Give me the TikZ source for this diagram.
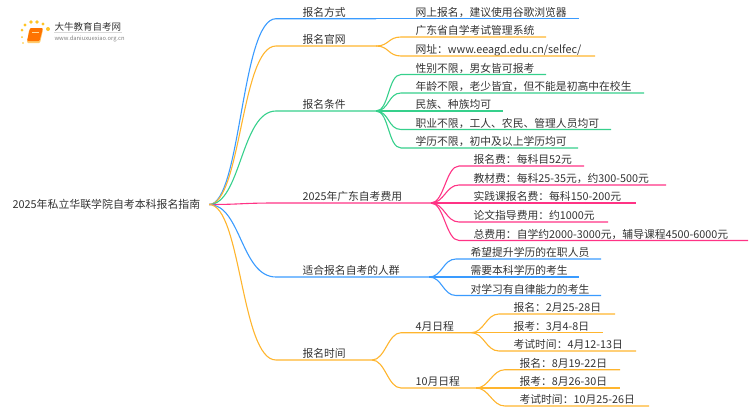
\documentclass[tikz,border=0pt]{standalone}
\usepackage{fontspec}
\setmainfont{Noto Sans CJK SC}
\usetikzlibrary{calc}
\definecolor{blueline}{HTML}{3A9BFF}
\definecolor{orangeline}{HTML}{FFB52E}
\definecolor{greenline}{HTML}{36D08C}
\definecolor{pinkline}{HTML}{FF3385}
\definecolor{inktext}{HTML}{333333}
\tikzset{
  branch/.style n args={3}{to path={.. controls ($(\tikztostart)+(#1,0)$) and ($(\tikztotarget)+(-#2-#3,0)$) .. ($(\tikztotarget)+(-#3,0)$) -- (\tikztotarget)}},
  rootlink/.style={branch={32}{35}{26}},
  leaflink/.style={branch={13}{13}{14}}
}
\begin{document}
\begin{tikzpicture}[
  x=1pt, y=-1pt,
  topic/.style={anchor=south west, inner sep=0pt, inner ysep=.5pt, text height=9pt, text depth=1.3pt, align=left, text=inktext, font=\fontsize{10.8}{12}\selectfont},
  every path/.append style={line width=1.1pt}
]
\useasboundingbox (0,0) rectangle (750,410);

% Logo
\foreach \dotx/\doty/\dotr in {22/30/1.5, 25/25/1.6, 31/22/1.8, 37/22/1.8, 43/24/1.7, 48/29/2, 22/37/1, 23/43/.8}
  \fill[orangeline!80!yellow, line width=0pt] (\dotx,\doty) circle (\dotr);
\fill[orangeline!70!white, rounded corners=1pt] (29,30) -- (43,30) -- (40,43) -- (27,43) -- cycle;
\fill[orange!90!red, rounded corners=1pt] (30,28) -- (43,28) -- (39.5,41) -- (27,41) -- cycle;
\draw[orangeline!50!white, line width=.6pt] (32,32) -- (39,32);
\node[anchor=west, inner sep=0pt, text=inktext, font=\fontsize{9.5}{11}\selectfont] (logotitle) at (54,27) {大牛教育自考网};
\node[anchor=west, inner sep=0pt, text=gray, font=\fontsize{5.8}{7}\selectfont] (logourl) at (54,38.5) {www.daniuxuexiao.org.cn};
\draw[black!15, line width=.5pt] (logotitle.south west) -- (logotitle.south east);

% Root and first level
\node[anchor=west, inner sep=0pt, text width=196pt, text=inktext, font=\fontsize{10.9}{12}\selectfont] (root) at (12,204.5) {2025年私立华联学院自考本科报名指南};
\node[topic, text width=73pt] (way) at (302,18.7) {报名方式};
\node[topic, text width=73pt] (site) at (302,46) {报名官网};
\node[topic, text width=73pt] (cond) at (302,111) {报名条件};
\node[topic, text width=128pt] (cost) at (302,203) {2025年广东自考费用};
\node[topic, text width=126pt] (crowd) at (302,277) {适合报名自考的人群};
\node[topic, text width=69pt] (time) at (302,360) {报名时间};

% Second level
\node[topic, text width=163pt] (way1) at (415,18.7) {网上报名，建议使用谷歌浏览器};
\node[topic, text width=130pt] (site1) at (415,37) {广东省自学考试管理系统};
\node[topic, text width=179pt] (site2) at (415,56) {网址：www.eeagd.edu.cn/selfec/};
\node[topic, text width=130pt] (cond1) at (415,74.5) {性别不限，男女皆可报考};
\node[topic, text width=228pt] (cond2) at (415,93) {年龄不限，老少皆宜，但不能是初高中在校生};
\node[topic, text width=87pt] (cond3) at (415,111) {民族、种族均可};
\node[topic, text width=195pt] (cond4) at (415,129.5) {职业不限，工人、农民、管理人员均可};
\node[topic, text width=162pt] (cond5) at (415,148) {学历不限，初中及以上学历均可};
\node[topic, text width=110pt] (cost1) at (473,166) {报名费：每科目52元};
\node[topic, text width=192pt] (cost2) at (473,185) {教材费：每科25-35元，约300-500元};
\node[topic, text width=162pt] (cost3) at (473,203) {实践课报名费：每科150-200元};
\node[topic, text width=134pt] (cost4) at (473,222) {论文指导费用：约1000元};
\node[topic, text width=274pt] (cost5) at (473,240.5) {总费用：自学约2000-3000元，辅导课程4500-6000元};
\node[topic, text width=130pt] (crowd1) at (470,259) {希望提升学历的在职人员};
\node[topic, text width=108pt] (crowd2) at (470,277) {需要本科学历的考生};
\node[topic, text width=130pt] (crowd3) at (470,295.5) {对学习有自律能力的考生};
\node[topic, text width=55pt] (apr) at (415,332.7) {4月日程};
\node[topic, text width=60pt] (oct) at (415,388) {10月日程};

% Third level
\node[topic, text width=101pt] (apr1) at (513,314) {报名：2月25-28日};
\node[topic, text width=89pt] (apr2) at (513,332.7) {报考：3月4-8日};
\node[topic, text width=122pt] (apr3) at (513,351) {考试时间：4月12-13日};
\node[topic, text width=100pt] (oct1) at (519,369.7) {报名：8月19-22日};
\node[topic, text width=100pt] (oct2) at (519,388) {报考：8月26-30日};
\node[topic, text width=129pt] (oct3) at (519,406) {考试时间：10月25-26日};

% Branches from the root
\draw[blueline] (root.east) to[rootlink] (way.south west) -- (way.south east);
\draw[orangeline] (root.east) to[rootlink] (site.south west) -- (site.south east);
\draw[greenline] (root.east) to[rootlink] (cond.south west) -- (cond.south east);
\draw[pinkline] (root.east) to[rootlink] (cost.south west) -- (cost.south east);
\draw[blueline] (root.east) to[rootlink] (crowd.south west) -- (crowd.south east);
\draw[orangeline] (root.east) to[rootlink] (time.south west) -- (time.south east);

% Branches to the leaves
\draw[blueline] (way.south east) to[leaflink] (way1.south west) -- (way1.south east);
\draw[orangeline] (site.south east) to[leaflink] (site1.south west) -- (site1.south east);
\draw[orangeline] (site.south east) to[leaflink] (site2.south west) -- (site2.south east);
\foreach \leaf in {cond1,cond2,cond3,cond4,cond5}
  \draw[greenline] (cond.south east) to[leaflink] (\leaf.south west) -- (\leaf.south east);
\foreach \leaf in {cost1,cost2,cost3,cost4,cost5}
  \draw[pinkline] (cost.south east) to[leaflink] (\leaf.south west) -- (\leaf.south east);
\foreach \leaf in {crowd1,crowd2,crowd3}
  \draw[blueline] (crowd.south east) to[leaflink] (\leaf.south west) -- (\leaf.south east);
\foreach \leaf in {apr,oct}
  \draw[orangeline] (time.south east) to[leaflink] (\leaf.south west) -- (\leaf.south east);
\foreach \leaf in {apr1,apr2,apr3}
  \draw[orangeline] (apr.south east) to[leaflink] (\leaf.south west) -- (\leaf.south east);
\foreach \leaf in {oct1,oct2,oct3}
  \draw[orangeline] (oct.south east) to[leaflink] (\leaf.south west) -- (\leaf.south east);
\end{tikzpicture}
\end{document}
